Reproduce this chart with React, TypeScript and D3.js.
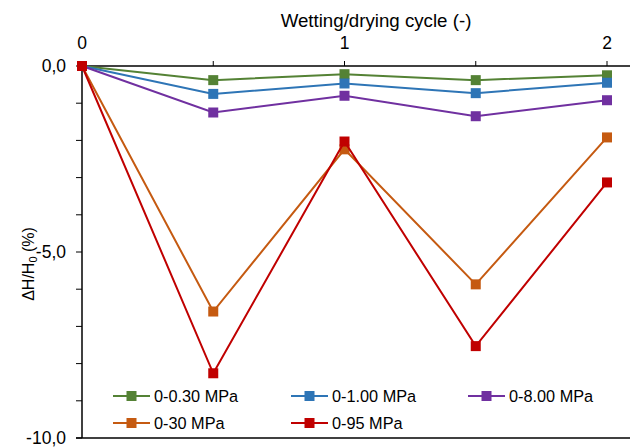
import * as d3 from 'd3';

const cycles = [0, 0.5, 1, 1.5, 2];
const seriesNames = ['0-0.30 MPa', '0-1.00 MPa', '0-8.00 MPa', '0-30 MPa', '0-95 MPa'];
const seriesColors = ['#548235', '#2e75b6', '#7030a0', '#c55a11', '#c00000'];
const s030 = [0, -0.38, -0.22, -0.38, -0.25];
const s100 = [0, -0.75, -0.47, -0.73, -0.45];
const s800 = [0, -1.25, -0.8, -1.35, -0.92];
const s30 = [0, -6.6, -2.24, -5.87, -1.92];
const s95 = [0, -8.26, -2.03, -7.53, -3.13];
const xTickLabels = ['0', '1', '2'];
const yTickLabels = ['0,0', '-5,0', '-10,0'];

const seriesValues = [s030, s100, s800, s30, s95];

export default function App() {
  const width = 632;
  const height = 447;
  const font = 'Arial, "Liberation Sans", sans-serif';

  const x = d3.scaleLinear().domain([0, 2]).range([82, 607]);
  const y = d3.scaleLinear().domain([0, -10]).range([66, 438]);
  const xEnd = 630;

  const line = d3.line<number>()
    .x((d, i) => x(cycles[i]))
    .y(d => y(d));

  const xMinor = d3.range(0, 2.01, 0.5);
  const yMinor = d3.range(0, -10.01, -1);
  const yMajor = [0, -5, -10];

  // legend layout
  const legendCols = [113, 291, 468];
  const legendRows = [396, 423];

  return (
    <svg width={width} height={height} style={{ position: 'absolute', left: 0, top: 0, background: '#fff' }}
      fontFamily={font}>
      {/* axis title */}
      <text x={376} y={26.5} fontSize={18.7} textAnchor="middle" fill="#000">Wetting/drying cycle (-)</text>

      {/* x axis on top */}
      <line x1={x(0)} x2={xEnd} y1={y(0)} y2={y(0)} stroke="#000" strokeWidth={1.5} />
      {xMinor.map(t => (
        <line key={'xt' + t} x1={x(t)} x2={x(t)} y1={y(0)} y2={y(0) - 5} stroke="#000" strokeWidth={1} />
      ))}
      {xTickLabels.map((l, i) => (
        <text key={'xl' + l} x={x(i)} y={49} fontSize={17.5} textAnchor="middle" fill="#000">{l}</text>
      ))}

      {/* y axis */}
      <line x1={x(0)} x2={x(0)} y1={y(0)} y2={y(-10)} stroke="#000" strokeWidth={1.5} />
      {yMinor.map(t => (
        <line key={'yt' + t} x1={x(0) - 6} x2={x(0)} y1={y(t)} y2={y(t)} stroke="#000" strokeWidth={1} />
      ))}
      {yMajor.map((t, i) => (
        <text key={'yl' + t} x={66} y={y(t)} dy="0.35em" fontSize={17.5} textAnchor="end" fill="#000">{yTickLabels[i]}</text>
      ))}
      {/* bottom border */}
      <line x1={x(0) - 6} x2={xEnd} y1={y(-10)} y2={y(-10)} stroke="#000" strokeWidth={1.5} />

      {/* y label */}
      <text transform={`translate(34,${264}) rotate(-90)`} fontSize={16} textAnchor="middle" fill="#000">
        ΔH/H<tspan fontSize={11} dy={3}>0</tspan><tspan dy={-3}>{'\u00a0(%)'}</tspan>
      </text>

      {/* series */}
      {seriesValues.map((vals, si) => (
        <g key={'s' + si}>
          <path d={line(vals) || ''} fill="none" stroke={seriesColors[si]} strokeWidth={2} />
          {vals.map((v, i) => (
            <rect key={i} x={x(cycles[i]) - 5} y={y(v) - 5} width={10} height={10} fill={seriesColors[si]} />
          ))}
        </g>
      ))}

      {/* legend */}
      {seriesNames.map((name, si) => {
        const lx = legendCols[si % 3];
        const ly = legendRows[Math.floor(si / 3)];
        return (
          <g key={'lg' + si}>
            <line x1={lx} x2={lx + 37} y1={ly} y2={ly} stroke={seriesColors[si]} strokeWidth={2} />
            <rect x={lx + 13.5} y={ly - 5} width={10} height={10} fill={seriesColors[si]} />
            <text x={lx + 41} y={ly} dy="0.36em" fontSize={16.3} fill="#000">{name}</text>
          </g>
        );
      })}
    </svg>
  );
}
